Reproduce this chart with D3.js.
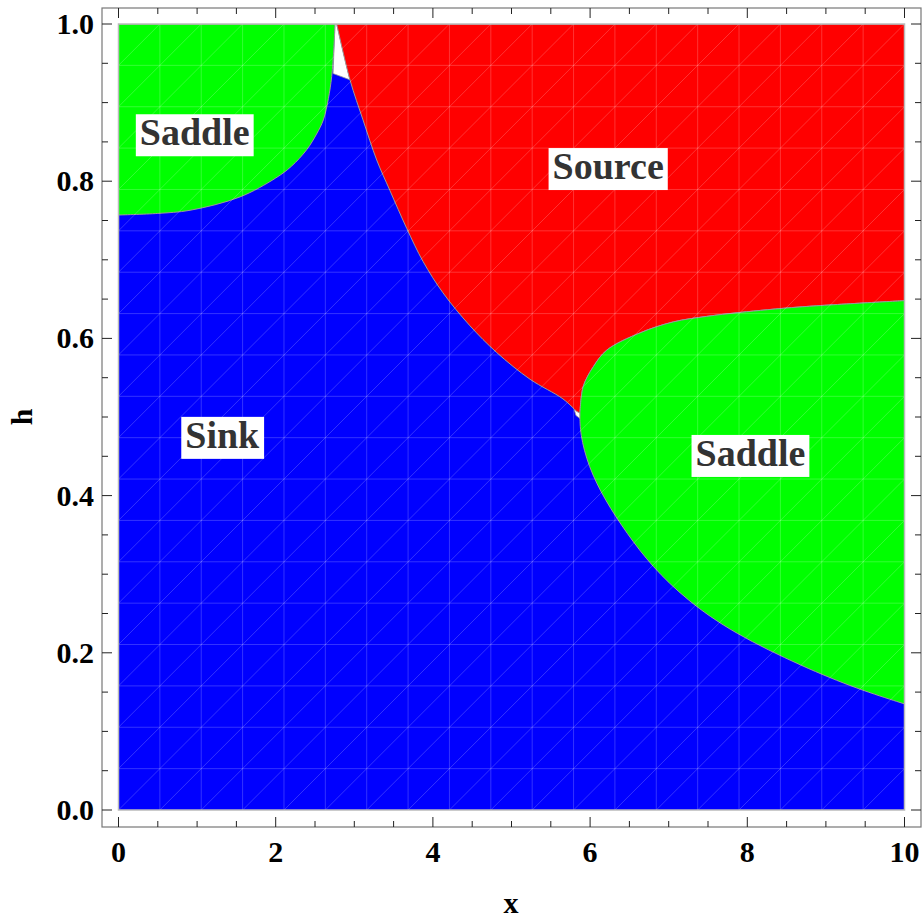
<!DOCTYPE html>
<html>
<head>
<meta charset="utf-8">
<title>Stability regions</title>
<style>
  body { margin: 0; background: #fff; }
</style>
</head>
<body>
<script src="https://d3js.org/d3.v7.min.js"></script>
<script>
var width = 923, height = 919;
var FONT = "Liberation Serif, Times New Roman, Times, serif";

// boundary curves, as [x, h]
var saddleTopEdge = [[0,0.757],[0.5,0.759],[0.91,0.763],[1.546,0.780],[2.0,0.804],[2.2,0.819],
                     [2.394,0.840],[2.52,0.860],[2.606,0.878],[2.67,0.905],[2.712,0.933],[2.74,0.97],[2.754,1.0]];
var sourceEdge = [[2.776,1.0],[2.945,0.929],[3.111,0.878],[3.285,0.827],[3.454,0.788],[3.667,0.740],
                  [3.874,0.698],[4.128,0.658],[4.472,0.616],[4.812,0.582],[5.236,0.548],[5.655,0.523],[5.83,0.507]];
var saddleUpperEdge = [[5.871,0.505],[5.913,0.539],[6.041,0.564],[6.211,0.585],[6.635,0.607],[7.059,0.621],
                       [7.483,0.628],[7.907,0.633],[8.67,0.640],[10,0.648]];
var saddleLowerEdge = [[5.871,0.505],[5.871,0.479],[5.977,0.437],[6.19,0.394],[6.466,0.352],[6.784,0.310],
                       [7.229,0.267],[7.822,0.225],[8.712,0.182],[9.40,0.154],[10,0.135]];
// small unresolved gaps (white)
var gapTop = [[2.754,1.0],[2.776,1.0],[2.945,0.929],[2.73,0.937]];
var gapMid = [[5.80,0.509],[5.875,0.512],[5.872,0.498],[5.82,0.502]];

var labels = [{t:"Saddle", x:0.97, h:0.861}, {t:"Source", x:6.23, h:0.818},
              {t:"Sink", x:1.32, h:0.476}, {t:"Saddle", x:8.04, h:0.453}];

var xTicks = [0,2,4,6,8,10];
var yTicks = [0,0.2,0.4,0.6,0.8,1.0];
var xMinor = d3.range(0, 10.01, 0.5);
var yMinor = d3.range(0, 1.001, 0.05);

var x = d3.scaleLinear().domain([0,10]).range([118.5, 904.5]);
var y = d3.scaleLinear().domain([0,1]).range([810, 24]);

var svg = d3.select("body").append("svg").attr("width", width).attr("height", height)
  .style("font-family", FONT).style("font-weight", "bold");

var curve = d3.line().x(function(d){ return x(d[0]); }).y(function(d){ return y(d[1]); }).curve(d3.curveCatmullRom);
var smooth = d3.line().x(function(d){ return x(d[0]); }).y(function(d){ return y(d[1]); }).curve(d3.curveBasis);
function pts(arr){ return arr.map(function(d){ return "L" + x(d[0]) + "," + y(d[1]); }).join(""); }

svg.append("clipPath").attr("id","plotclip").append("rect")
  .attr("x", x(0)).attr("y", y(1)).attr("width", x(10)-x(0)).attr("height", y(0)-y(1));

var plot = svg.append("g").attr("clip-path","url(#plotclip)");

// sink is everything else
plot.append("rect").attr("x", x(0)).attr("y", y(1)).attr("width", x(10)-x(0)).attr("height", y(0)-y(1))
  .attr("fill", "#0000ff");

plot.selectAll(".gap").data([gapTop, gapMid]).enter().append("path")
  .attr("d", function(d){ return "M" + pts(d).slice(1) + "Z"; })
  .attr("fill", "#fff").attr("stroke", "#999").attr("stroke-width", 0.8);

// source
plot.append("path")
  .attr("d", curve(sourceEdge) + "L" + x(saddleUpperEdge[0][0]) + "," + y(saddleUpperEdge[0][1]) +
    curve(saddleUpperEdge).replace(/^M/, "L") + pts([[10,1],[2.776,1]]) + "Z")
  .attr("fill", "#ff0000").attr("stroke", "#999").attr("stroke-width", 1);

// saddles
plot.append("path")
  .attr("d", curve(saddleTopEdge) + pts([[0,1],[0,0.757]]) + "Z")
  .attr("fill", "#00ff00").attr("stroke", "#999").attr("stroke-width", 1);
plot.append("path")
  .attr("d", curve(saddleUpperEdge) + pts([[10,0.135]]) + smooth(saddleLowerEdge.slice().reverse()).replace(/^M/, "L") + "Z")
  .attr("fill", "#00ff00").attr("stroke", "#999").attr("stroke-width", 1);

// faint mesh texture
var n = 19, cell = (x(10)-x(0))/n;
var mesh = plot.append("g").attr("stroke", "#fff").attr("stroke-opacity", 0.2).attr("stroke-width", 1);
d3.range(1, n).forEach(function(i){
  mesh.append("line").attr("x1", x(0)+i*cell).attr("x2", x(0)+i*cell).attr("y1", y(1)).attr("y2", y(0));
  mesh.append("line").attr("y1", y(1)+i*cell).attr("y2", y(1)+i*cell).attr("x1", x(0)).attr("x2", x(10));
});
d3.range(-n+1, n).forEach(function(i){
  mesh.append("line").attr("x1", x(0)+i*cell).attr("y1", y(0)).attr("x2", x(0)+(i+n)*cell).attr("y2", y(1));
});

svg.append("rect").attr("x", x(0)).attr("y", y(1)).attr("width", x(10)-x(0)).attr("height", y(0)-y(1))
  .attr("fill", "none").attr("stroke", "#bbb").attr("stroke-width", 1.5);

// labels with white boxes
var lab = svg.selectAll(".lab").data(labels).enter().append("g");
lab.append("text").attr("x", function(d){ return x(d.x); }).attr("y", function(d){ return y(d.h) + 12; })
  .attr("text-anchor", "middle").attr("font-size", 38).attr("fill", "#333").text(function(d){ return d.t; });
lab.each(function(){
  var g = d3.select(this), b = g.select("text").node().getBBox();
  g.insert("rect", "text").attr("x", b.x - 4).attr("y", b.y + 3).attr("width", b.width + 8).attr("height", b.height)
    .attr("fill", "#fff");
});

// frame
var L = 102, R = 921, T = 8, B = 827;
svg.append("rect").attr("x", L).attr("y", T).attr("width", R-L).attr("height", B-T)
  .attr("fill", "none").attr("stroke", "#777").attr("stroke-width", 1.2);

var ticks = svg.append("g").attr("stroke", "#222").attr("stroke-width", 1);
function isMajor(v, arr){ return arr.some(function(t){ return Math.abs(t - v) < 1e-6; }); }
xMinor.forEach(function(v){
  var len = isMajor(v, xTicks) ? 10 : 6;
  ticks.append("line").attr("x1", x(v)).attr("x2", x(v)).attr("y1", B).attr("y2", B - len);
  ticks.append("line").attr("x1", x(v)).attr("x2", x(v)).attr("y1", T).attr("y2", T + len);
});
yMinor.forEach(function(v){
  var len = isMajor(v, yTicks) ? 10 : 6;
  ticks.append("line").attr("y1", y(v)).attr("y2", y(v)).attr("x1", L).attr("x2", L + len);
  ticks.append("line").attr("y1", y(v)).attr("y2", y(v)).attr("x1", R).attr("x2", R - len);
});

svg.selectAll(".xt").data(xTicks).enter().append("text")
  .attr("x", function(d){ return x(d); }).attr("y", 862).attr("text-anchor", "middle")
  .attr("font-size", 30).attr("fill", "#000").text(function(d){ return d; });
svg.selectAll(".yt").data(yTicks).enter().append("text")
  .attr("x", 94).attr("y", function(d){ return y(d) + 10; }).attr("text-anchor", "end")
  .attr("font-size", 30).attr("fill", "#000").text(function(d){ return d3.format(".1f")(d); });

svg.append("text").attr("x", 511).attr("y", 913).attr("text-anchor", "middle").attr("font-size", 30).text("x");
svg.append("text").attr("transform", "translate(32,417) rotate(-90)").attr("text-anchor", "middle")
  .attr("font-size", 30).text("h");
</script>
</body>
</html>
